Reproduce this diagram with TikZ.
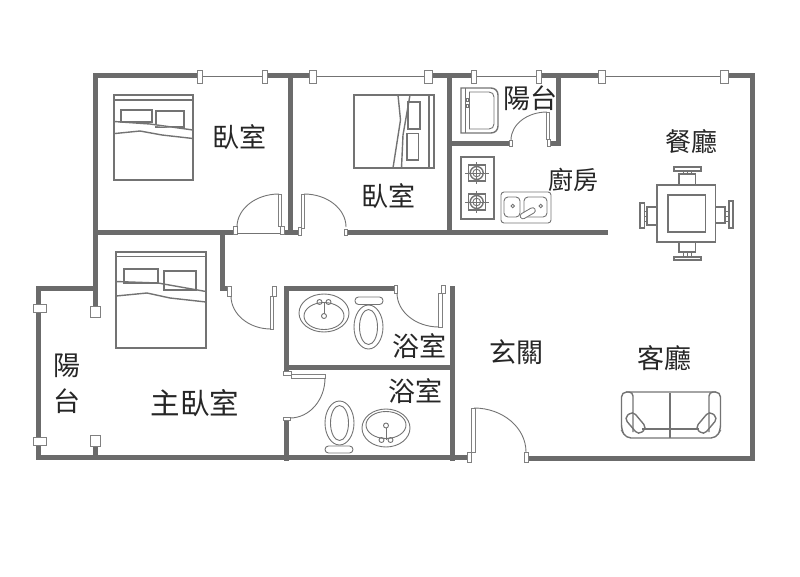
\documentclass[tikz,border=0pt]{standalone}
\usepackage{fontspec}
\newfontfamily\cjk{Noto Sans CJK TC}
\tikzset{
  wall/.style={draw=black!58,line width=5pt,line cap=rect},
  fixture/.style={draw=black!55,line width=1.4pt},
  thinline/.style={draw=black!55,line width=0.9pt},
  frame box/.style={draw=black!50,line width=1pt,fill=white},
  room/.style={text=black!85,inner sep=0pt,font=\cjk\fontsize{27}{27}\selectfont}
}
\begin{document}
\begin{tikzpicture}[x=1pt,y=-1pt]
\useasboundingbox (0,0) rectangle (800,576);
% windows
\draw[thinline] (198,76) -- (266,76);
\draw[thinline] (310,76) -- (430,76);
\draw[thinline] (474,76) -- (540,76);
\draw[thinline] (602,76) -- (724,76);
\draw[thinline] (39.5,308) -- (39.5,441);
% walls
\draw[wall] (198,75) -- (95,75) -- (95,306);
\draw[wall] (266,75) -- (310,75);
\draw[wall] (430,75) -- (472,75);
\draw[wall] (540,75) -- (600,75);
\draw[wall] (724,75) -- (752,75) -- (752,458) -- (530,458);
\draw[wall] (290,75) -- (290,232);
\draw[wall] (449,75) -- (449,232);
\draw[wall] (558,75) -- (558,143) -- (552,143);
\draw[wall] (449,143) -- (508,143);
\draw[wall] (95,232) -- (232,232);
\draw[wall] (286,232) -- (297,232);
\draw[wall] (349,232) -- (605,232);
\draw[wall] (222,232) -- (222,288) -- (227,288);
\draw[wall] (286,288) -- (394,288);
\draw[wall] (452,288) -- (452,458);
\draw[wall] (286,288) -- (286,370);
\draw[wall] (286,420) -- (286,458);
\draw[wall] (286,367) -- (452,367);
\draw[wall] (95,288) -- (38,288) -- (38,457) -- (467,457);
\draw[wall] (95,447) -- (95,457);
% window frames
\foreach \xpos/\halfw in {200/2.5,265/2.5,312.5/3.5,428/4,474/2.5,539/2.5,602/3.5,724/4}
  \draw[frame box] (\xpos-\halfw,70) rectangle (\xpos+\halfw,83);
\foreach \ypos in {308,441}
  \draw[frame box] (33,\ypos-4) rectangle (46,\ypos+4);
\draw[frame box] (90,306) rectangle (100,317);
\draw[frame box] (90,435) rectangle (100,446);
% doors
\draw[frame box] (233.5,226) rectangle (237,234);
\draw[frame box] (280.5,226) rectangle (284,234);
\draw[frame box] (298,227) rectangle (301.5,235);
\draw[frame box] (344,229) rectangle (347.5,235);
\draw[frame box] (278,194) rectangle (281,226);
\draw[frame box] (301,194) rectangle (304,228);
\draw[thinline] (237,233) -- (280,233);
\draw[thinline] (279,194) arc[start angle=270,end angle=180,x radius=42,y radius=33];
\draw[thinline] (304,194) arc[start angle=270,end angle=360,x radius=42,y radius=33];
\draw[frame box] (509,140) rectangle (512.5,146);
\draw[frame box] (547.5,139) rectangle (550.5,146);
\draw[frame box] (546.5,112) rectangle (549.5,139);
\draw[thinline] (547,112) arc[start angle=270,end angle=180,x radius=36,y radius=28];
\draw[frame box] (227,286) rectangle (231,296);
\draw[frame box] (272,286) rectangle (276,296);
\draw[frame box] (270,296) rectangle (273.5,329);
\draw[thinline] (231,296) arc[start angle=180,end angle=90,x radius=40,y radius=33];
\draw[frame box] (394,285) rectangle (397.5,293);
\draw[frame box] (441,285) rectangle (445,293);
\draw[frame box] (438.5,293) rectangle (442,327);
\draw[thinline] (397,293) arc[start angle=180,end angle=90,x radius=42,y radius=34];
\draw[frame box] (283,371.5) rectangle (291,375);
\draw[frame box] (291,374.5) rectangle (325,378);
\draw[frame box] (283,417) rectangle (290,420);
\draw[thinline] (325,378) arc[start angle=0,end angle=90,x radius=35,y radius=40];
\draw[frame box] (467,452) rectangle (471.5,462);
\draw[frame box] (524.5,452) rectangle (528.5,462);
\draw[frame box] (471.5,408) rectangle (475,452);
\draw[thinline] (474,408) arc[start angle=270,end angle=360,x radius=52,y radius=44];
% bed left top
\draw[fixture] (114,95) rectangle (193,180);
\draw[fixture] (114,100) -- (193,100);
\draw[fixture] (121,110) rectangle (152,122);
\draw[fixture] (156,111) rectangle (184,127);
\draw[fixture,fill=white] (114,121.5) -- (150,124) -- (193,130);
\draw[fixture] (115,133.5) -- (140,131) -- (162,135) -- (193,138.5);
% bed middle top
\draw[fixture] (354,95) rectangle (434,168);
\draw[fixture] (429,95) -- (429,168);
\draw[fixture] (408,102) rectangle (420,129);
\draw[fixture] (407,133.5) rectangle (418.5,160);
\draw[fixture,fill=white] (398,95) -- (400.5,120) -- (393,168);
\draw[fixture] (410,95) -- (403,135) -- (401.5,168);
% bed master
\draw[fixture] (116,252) rectangle (206,348);
\draw[fixture] (116,256.5) -- (206,256.5);
\draw[fixture] (124,269) rectangle (158,283);
\draw[fixture] (164,271) rectangle (196,290);
\draw[fixture] (116,281.5) -- (158,283) -- (206,291.5);
\draw[fixture] (116,296) -- (147,293) -- (170,298) -- (206,302);
% washer
\draw[fixture] (461,88) -- (491,88) .. controls (495,88) and (498,91) .. (498,95) -- (498,126) .. controls (498,130) and (495,133) .. (491,133) -- (461,133) -- cycle;
\draw[thinline] (465,88) -- (465,133);
\draw[thinline] (469.5,92) -- (489,92) .. controls (492,92) and (494,94) .. (494,97) -- (494,124) .. controls (494,127) and (492,129) .. (489,129) -- (469.5,129) -- cycle;
\draw[thinline] (466,98) rectangle (468,101);
\draw[thinline] (466,104) rectangle (468,107);
% stove
\draw[fixture] (461,157) rectangle (494,219);
\foreach \ypos in {173,202} {
  \draw[fixture] (468.5,\ypos-8) rectangle (485.5,\ypos+8);
  \draw[fixture,fill=white] (476.7,\ypos) circle (6.5);
  \draw[thinline] (476.7,\ypos) circle (3.8);
  \draw[thinline] (465,\ypos) -- (488.5,\ypos);
  \draw[thinline] (476.7,\ypos-11) -- (476.7,\ypos+11);
}
% kitchen sink
\draw[thinline,rounded corners=3pt] (501,192) rectangle (551,223);
\draw[thinline,rounded corners=4pt] (504,197) rectangle (520,217);
\draw[thinline,rounded corners=4pt] (524,197) rectangle (547,217);
\draw[thinline] (512.7,206) circle (1.8);
\draw[thinline] (540.7,206) circle (1.8);
\draw[draw=black!55,line width=6.5pt,line cap=round] (523,216) -- (532.5,210.5);
\draw[draw=white,line width=4.5pt,line cap=round] (523,216) -- (532.5,210.5);
% dining table
\draw[fixture] (657,185) rectangle (715.5,242);
\draw[fixture] (668,195) rectangle (705.5,232);
\draw[fixture] (679,174) rectangle (695.5,185);
\draw[fixture] (674,167) rectangle (701,171);
\draw[fixture] (679,242) rectangle (695.5,252);
\draw[fixture] (674,257) rectangle (701,260);
\draw[fixture] (647,207) rectangle (657,225);
\draw[fixture] (640,203) rectangle (644.5,228);
\draw[fixture] (715.5,207) rectangle (725,223);
\draw[fixture] (729,201) rectangle (733,228);
\foreach \off in {683,687,691}
  \draw[thinline] (\off,171) -- (\off,174) (\off,252) -- (\off,257);
\foreach \off in {211,216,221} {
  \draw[thinline] (644.5,\off) -- (647,\off);
  \draw[thinline] (725,\off) -- (729,\off);
}
% sofa
\draw[fixture,rounded corners=5pt] (621.5,392) -- (720.5,392) -- (720.5,430) -- (716,438) -- (626,438) -- (621.5,430) -- cycle;
\draw[fixture] (670,393) -- (670,438);
\draw[fixture] (642,429) -- (699,429);
\draw[fixture,rounded corners=4pt] (626,392) -- (633,392) -- (633,432);
\draw[fixture,rounded corners=4pt] (716,392) -- (709,392) -- (709,432);
\draw[fixture,rounded corners=4.5pt,rotate around={40:(635.5,423)}] (630,412) rectangle (641,434);
\draw[fixture,rounded corners=4.5pt,rotate around={-40:(706.5,423)}] (701,412) rectangle (712,434);
% sink and toilet upper bath
\draw[thinline] (324,313) ellipse (25 and 19);
\draw[thinline] (324,316) ellipse (20 and 13.5);
\draw[thinline] (319.5,302) circle (2.5);
\draw[thinline] (328.5,302) circle (2.5);
\draw[thinline] (324,302) -- (324,314);
\draw[thinline] (324,316) circle (2.5);
\draw[thinline,rounded corners=3.5pt] (355,297) rectangle (383,304.5);
\draw[thinline] (368.5,327) ellipse (14.5 and 22);
\draw[thinline] (368.5,327) ellipse (9 and 17.5);
% sink and toilet lower bath
\draw[thinline] (386,428) ellipse (24 and 19);
\draw[thinline] (386,425) ellipse (20 and 13.5);
\draw[thinline] (381.5,440) circle (2.5);
\draw[thinline] (390.5,440) circle (2.5);
\draw[thinline] (386,428) -- (386,440);
\draw[thinline] (386,425.5) circle (2.5);
\draw[thinline,rounded corners=3.5pt] (325,446) rectangle (353,453);
\draw[thinline] (339.5,423) ellipse (14.5 and 22);
\draw[thinline] (339.5,423) ellipse (9 and 17.5);
% labels
\draw (239,137) node[room] (bedrooma) {臥室};
\draw (388,196) node[room] (bedroomb) {臥室};
\draw (530,98) node[room] (balconya) {陽台};
\draw (573,180) node[room,font=\cjk\fontsize{25}{25}\selectfont] (kitchen) {廚房};
\draw (691,142) node[room,font=\cjk\fontsize{26}{26}\selectfont] (dining) {餐廳};
\draw (419,346) node[room] (batha) {浴室};
\draw (415,391) node[room] (bathb) {浴室};
\draw (516,352) node[room] (entry) {玄關};
\draw (664,358) node[room] (living) {客廳};
\draw (195,403) node[room,font=\cjk\fontsize{29.5}{30}\selectfont] (master) {主臥室};
\draw (67,366) node[room] (balconyb) {陽};
\draw (67,401) node[room] (balconyc) {台};
\end{tikzpicture}
\end{document}
